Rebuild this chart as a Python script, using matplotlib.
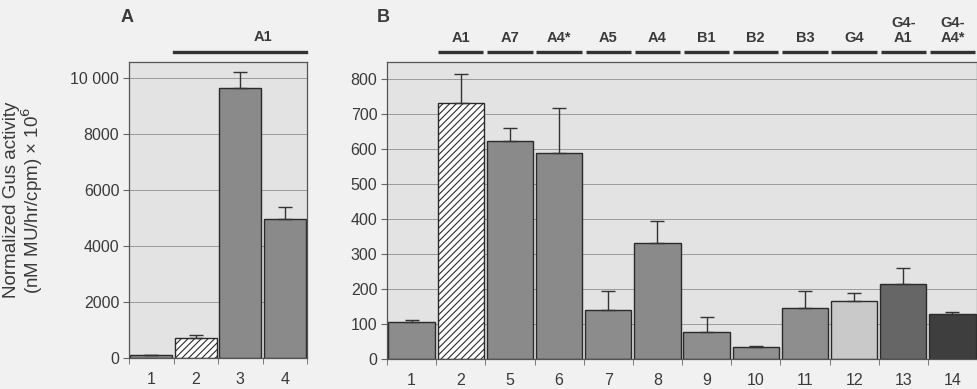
import matplotlib
matplotlib.use("Agg")
import matplotlib.pyplot as plt
import numpy as np
from matplotlib.transforms import blended_transform_factory

# ---- data ----
a_labels = ["1", "2", "3", "4"]
a_values = [100, 700, 9630, 4950]
a_errors = [20, 120, 600, 430]
a_group = "A1"

b_labels = ["1", "2", "5", "6", "7", "8", "9", "10", "11", "12", "13", "14"]
b_values = [105, 732, 623, 589, 140, 333, 76, 33, 145, 165, 214, 128]
b_errors = [6, 82, 38, 129, 54, 62, 43, 4, 49, 24, 47, 7]
b_groups = ["", "A1", "A7", "A4*", "A5", "A4", "B1", "B2", "B3", "G4", "G4-\nA1", "G4-\nA4*"]

# ---- styles ----
a_colors = ["#8c8c8c", "white", "#8a8a8a", "#8a8a8a"]
a_hatch = ["", "/////", "", ""]
b_colors = ["#8c8c8c", "white", "#8a8a8a", "#8a8a8a", "#8c8c8c", "#8a8a8a",
            "#8e8e8e", "#909090", "#8e8e8e", "#c9c9c9", "#666666", "#3e3e3e"]
b_hatch = ["", "/////", "", "", "", "", "", "", "", "", "", ""]

plt.rcParams["font.family"] = ["Liberation Sans", "DejaVu Sans"]
FIG_BG = "#f1f1f1"
AX_BG = "#e3e3e3"
TXT = "#3a3a3a"
plt.rcParams["hatch.linewidth"] = 0.8
plt.rcParams["hatch.color"] = "#444444"

fig = plt.figure(figsize=(9.77, 3.89), dpi=100, facecolor=FIG_BG)
axA = fig.add_axes([129/977, 31/389, 178/977, 296/389])
axB = fig.add_axes([387/977, 30/389, 590/977, 297/389])


def style(ax, n, ymax, yticks, ytlabels):
    ax.set_facecolor(AX_BG)
    ax.set_xlim(-0.5, n - 0.5)
    ax.set_ylim(0, ymax)
    ax.set_yticks(yticks)
    ax.set_yticklabels(ytlabels)
    ax.yaxis.grid(True, color="#9a9a9a", linewidth=0.7)
    ax.set_axisbelow(True)
    for s in ax.spines.values():
        s.set_color("#555555")
        s.set_linewidth(0.9)
    ax.set_xticks(np.arange(n))
    ax.set_xticks(np.arange(n + 1) - 0.5, minor=True)
    ax.tick_params(axis="x", which="major", length=0, pad=10, labelsize=11.5, colors=TXT)
    ax.tick_params(axis="x", which="minor", length=4, color="#666666")
    ax.tick_params(axis="y", length=4, color="#666666", labelsize=11.5, labelcolor=TXT, pad=3)


def draw_bars(ax, labels, values, errors, colors, hatches):
    x = np.arange(len(values))
    bars = ax.bar(x, values, width=0.94, color=colors, edgecolor="#2a2a2a", linewidth=1.0, zorder=2)
    for b, h in zip(bars, hatches):
        if h:
            b.set_hatch(h)
    ax.errorbar(x, values, yerr=[np.zeros(len(values)), errors], fmt="none",
                ecolor="#333333", elinewidth=1.0, capsize=5, capthick=1.0, zorder=3)
    ax.set_xticklabels(labels)


# Panel A
style(axA, 4, 10570, [0, 2000, 4000, 6000, 8000, 10000],
      ["0", "2000", "4000", "6000", "8000", "10 000"])
draw_bars(axA, a_labels, a_values, a_errors, a_colors, a_hatch)
trA = blended_transform_factory(axA.transData, axA.transAxes)
axA.plot([0.52, 3.48], [1.034, 1.034], color="#333333", lw=2.4, transform=trA, clip_on=False)
axA.text(2.5, 1.062, a_group, transform=trA, ha="center", va="bottom",
         fontsize=10.5, fontweight="bold", color=TXT)

# Panel B
style(axB, 12, 849, [0, 100, 200, 300, 400, 500, 600, 700, 800],
      ["0", "100", "200", "300", "400", "500", "600", "700", "800"])
draw_bars(axB, b_labels, b_values, b_errors, b_colors, b_hatch)
trB = blended_transform_factory(axB.transData, axB.transAxes)
for i, g in enumerate(b_groups):
    if not g:
        continue
    axB.plot([i - 0.46, i + 0.46], [1.034, 1.034], color="#333333", lw=2.4,
             transform=trB, clip_on=False, solid_capstyle="butt")
    axB.text(i, 1.058, g, transform=trB, ha="center", va="bottom",
             fontsize=10.5, fontweight="bold", color=TXT, linespacing=1.1)

fig.text(24/977, 1 - 200/389, "Normalized Gus activity\n(nM MU/hr/cpm) × 10$^6$",
         rotation=90, fontsize=13.5, color=TXT, ha="center", va="center",
         linespacing=1.0, multialignment="center")

fig.text(127/977, 1 - 18/389, "A", fontsize=13, fontweight="bold", color=TXT, va="center", ha="center")
fig.text(383/977, 1 - 18/389, "B", fontsize=13, fontweight="bold", color=TXT, va="center", ha="center")

fig.savefig("out.png", dpi=100, facecolor=FIG_BG)
